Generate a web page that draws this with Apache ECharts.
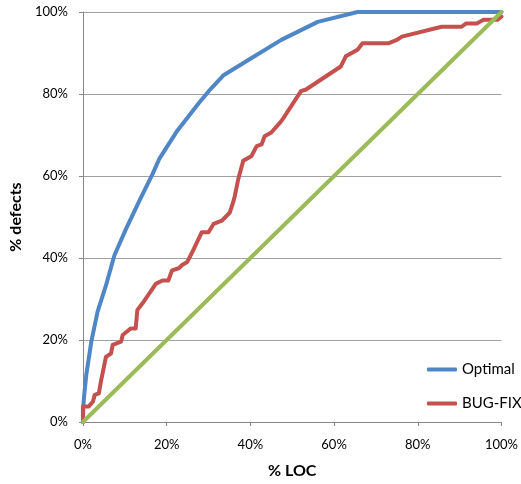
<!DOCTYPE html>
<html>
<head>
<meta charset="utf-8">
<script src="https://cdn.jsdelivr.net/npm/echarts@6/dist/echarts.min.js"></script>
<style>
  html, body { margin: 0; padding: 0; background: #fff; }
  #chart { width: 521px; height: 484px; }
</style>
</head>
<body>
<div id="chart"></div>
<script>
// % LOC on x, % defects on y
const axisTicks = [0, 20, 40, 60, 80, 100];

const optimalX = [0, 0.1, 0.3, 0.8, 2.0, 3.5, 5.5, 7.5, 10.3, 13.5, 16.6, 18.2, 22.5, 27.7, 30.5, 33.5, 40.0, 47.4, 56.1, 65.6, 100];
const optimalY = [0, 4.0, 6.5, 11.5, 19.6, 26.9, 33.3, 40.6, 47.1, 54.0, 60.4, 64.1, 71.0, 77.8, 81.2, 84.5, 88.6, 93.2, 97.6, 100, 100];

const bugfixX = [0, 0, 1.4, 2.4, 2.8, 3.8, 4.3, 5.5, 6.7, 7.1, 9.1, 9.5, 11.4, 12.6, 13.0, 14.2, 17.4, 19.0, 20.4, 21.3, 22.9, 23.7, 24.9, 26.5, 28.4, 30.0, 31.2, 33.2, 35.1, 35.9, 36.3, 37.1, 38.3, 40.3, 41.5, 42.7, 43.4, 45.0, 47.4, 48.2, 52.1, 53.3, 61.6, 62.8, 65.6, 66.8, 73.1, 75.0, 76.2, 85.7, 90.5, 91.5, 94.1, 95.7, 99.1, 100];
const bugfixY = [0, 3.8, 3.8, 5.0, 6.6, 7.0, 9.9, 15.9, 16.7, 18.8, 19.6, 21.2, 22.8, 22.8, 27.3, 28.9, 33.7, 34.5, 34.5, 37.0, 37.5, 38.3, 39.0, 42.2, 46.3, 46.3, 48.3, 49.1, 51.1, 53.6, 55.2, 59.2, 63.7, 64.9, 67.3, 67.7, 69.7, 70.6, 73.4, 74.6, 80.7, 81.1, 86.7, 89.2, 90.8, 92.4, 92.4, 93.2, 94.0, 96.4, 96.4, 97.2, 97.2, 98.1, 98.1, 98.9];

const baselineX = [0, 100];
const baselineY = [0, 100];

function pairs(xs, ys) {
  return xs.map((x, i) => [x, ys[i]]);
}

const chart = echarts.init(document.getElementById('chart'));
const font = 'Lato, "Liberation Sans", sans-serif';

function axis(name, horizontal) {
  return {
    type: 'value',
    min: axisTicks[0],
    max: axisTicks[axisTicks.length - 1],
    interval: 20,
    name: name,
    nameLocation: 'middle',
    nameGap: horizontal ? 41 : 52,
    nameTextStyle: { fontFamily: font, fontWeight: 'bold', fontSize: 16, color: '#000' },
    axisLine: { show: true, onZero: false, lineStyle: { color: '#868686', width: 1 } },
    axisTick: { show: true, length: 4, lineStyle: { color: '#868686' } },
    axisLabel: {
      formatter: '{value}%',
      fontFamily: font,
      fontSize: 13,
      color: '#000',
      margin: horizontal ? 16 : 15
    },
    splitLine: { show: !horizontal, lineStyle: { color: '#a0a0a0', width: 1 } }
  };
}

chart.setOption({
  animation: false,
  backgroundColor: '#fff',
  grid: { left: 80, right: 19, top: 12, bottom: 60 },
  xAxis: axis('% LOC', true),
  yAxis: axis('% defects', false),
  legend: {
    orient: 'vertical',
    left: 422,
    top: 357,
    itemGap: 19,
    itemWidth: 30,
    itemHeight: 4,
    icon: 'roundRect',
    data: ['Optimal', 'BUG-FIX'],
    textStyle: { fontFamily: font, fontSize: 15, color: '#000' }
  },
  series: [
    {
      name: 'Optimal',
      type: 'line',
      data: pairs(optimalX, optimalY),
      showSymbol: false,
      clip: false,
      color: '#4F86C6',
      lineStyle: { width: 4, color: '#4F86C6', cap: 'round', join: 'round' }
    },
    {
      name: 'BUG-FIX',
      type: 'line',
      data: pairs(bugfixX, bugfixY),
      showSymbol: false,
      clip: false,
      color: '#C4514D',
      lineStyle: { width: 4, color: '#C4514D', cap: 'round', join: 'round' }
    },
    {
      name: 'Random',
      type: 'line',
      data: pairs(baselineX, baselineY),
      showSymbol: false,
      clip: false,
      color: '#9BBB59',
      lineStyle: { width: 4, color: '#9BBB59', cap: 'round', join: 'round' }
    }
  ]
});
</script>
</body>
</html>
